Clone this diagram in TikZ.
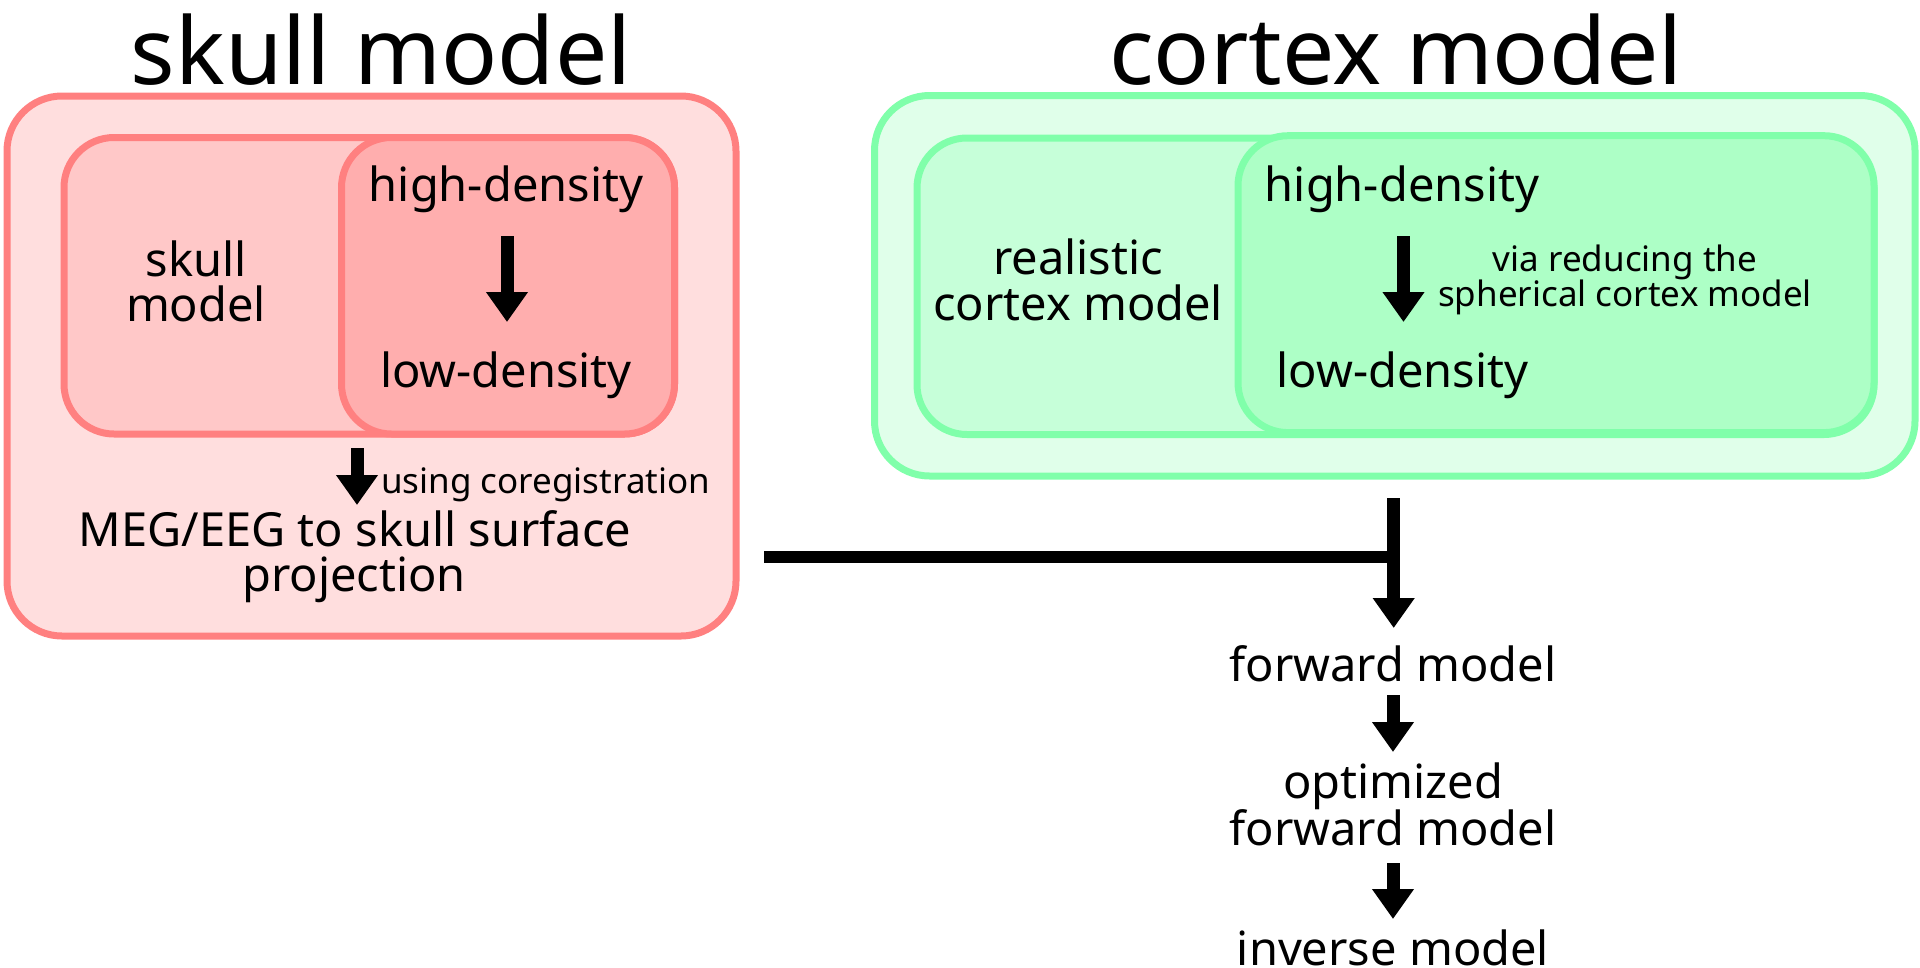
\documentclass[tikz,border=0pt]{standalone}
\usepackage{fontspec}
\setmainfont{Noto Sans}
\usetikzlibrary{arrows.meta}
\definecolor{pinkline}{HTML}{FF8080}
\definecolor{pinkbg}{HTML}{FFDEDE}
\definecolor{pinkmid}{HTML}{FFC8C8}
\definecolor{pinkdark}{HTML}{FFAEAE}
\definecolor{greenline}{HTML}{80FFAA}
\definecolor{greenbg}{HTML}{E0FFEA}
\definecolor{greenmid}{HTML}{C6FFD9}
\definecolor{greendark}{HTML}{ADFFC6}
\tikzset{
  box/.style={line width=7pt, inner sep=0pt, outer sep=0pt},
  titletext/.style={inner sep=0pt, anchor=base, font=\fontsize{93}{93}\selectfont},
  maintext/.style={inner sep=0pt, anchor=base, font=\fontsize{47}{47}\selectfont},
  smalltext/.style={inner sep=0pt, anchor=base, font=\fontsize{35}{35}\selectfont},
  arr/.style={line width=13pt, -{Triangle[width=40pt,length=30pt]}},
}
\begin{document}
\begin{tikzpicture}[x=1pt,y=-1pt]
\useasboundingbox (0,0) rectangle (1920,967);
% skull boxes
\node[box, draw=pinkline, fill=pinkbg, rounded corners=55pt, minimum width=729pt, minimum height=540pt] (skullouter) at (371.5,366) {};
\node[box, draw=pinkline, fill=pinkmid, rounded corners=50pt, minimum width=610.5pt, minimum height=296.5pt] (skullinner) at (369.25,285.75) {};
\node[box, draw=pinkline, fill=pinkdark, rounded corners=50pt, minimum width=333pt, minimum height=296.5pt] (skulldens) at (508,285.75) {};
% cortex boxes
\node[box, draw=greenline, fill=greenbg, rounded corners=55pt, minimum width=1040.5pt, minimum height=380.5pt] (cortexouter) at (1394.75,285.75) {};
\node[box, draw=greenline, fill=greenmid, rounded corners=50pt, minimum width=957pt, minimum height=296.5pt] (cortexinner) at (1395.5,286.25) {};
\node[box, draw=greenline, fill=greendark, rounded corners=50pt, minimum width=636pt, minimum height=296.9pt] (cortexdens) at (1556,284.15) {};
% titles
\node[titletext] (tskull) at (381.25,84.5) {skull model};
\node[titletext] (tcortex) at (1396,84.5) {cortex model};
% skull texts
\node[maintext] (skA) at (196,276) {skull};
\node[maintext] (skB) at (196,321) {model};
\node[maintext] (shigh) at (506,201.7) {high-density};
\node[maintext] (slow) at (506,387) {low-density};
\node[smalltext, anchor=base west] (scoreg) at (381,493) {using coregistration};
\node[maintext] (megA) at (355,546) {MEG/EEG to skull surface};
\node[maintext] (megB) at (354,591) {projection};
% cortex texts
\node[maintext] (reA) at (1078,274) {realistic};
\node[maintext] (reB) at (1078,320.7) {cortex model};
\node[maintext] (chigh) at (1402,201.7) {high-density};
\node[maintext] (clow) at (1402.5,387) {low-density};
\node[smalltext] (viaA) at (1625,271.7) {via reducing the};
\node[smalltext] (viaB) at (1625,306) {spherical cortex model};
% flow texts
\node[maintext] (fwd) at (1393,681.7) {forward model};
\node[maintext] (optA) at (1393,798) {optimized};
\node[maintext] (optB) at (1393,845) {forward model};
\node[maintext] (inv) at (1393,965) {inverse model};
% arrow coordinates
\coordinate (s1a) at (507,236);   \coordinate (s1b) at (507,322);
\coordinate (c1a) at (1403.5,236); \coordinate (c1b) at (1403.5,322);
\coordinate (s2a) at (357,448);   \coordinate (s2b) at (357,505);
\coordinate (joinL) at (764,557); \coordinate (joinR) at (1393.7,557);
\coordinate (va) at (1393.7,498); \coordinate (vb) at (1393.7,628);
\coordinate (f1a) at (1393,695);  \coordinate (f1b) at (1393,752);
\coordinate (f2a) at (1393,863);  \coordinate (f2b) at (1393,919);
% arrows
\draw[arr] (s1a) -- (s1b);
\draw[arr] (c1a) -- (c1b);
\draw[arr] (s2a) -- (s2b);
\draw[line width=12pt] (joinL) -- (joinR);
\draw[arr] (va) -- (vb);
\draw[arr] (f1a) -- (f1b);
\draw[arr] (f2a) -- (f2b);
\end{tikzpicture}
\end{document}
